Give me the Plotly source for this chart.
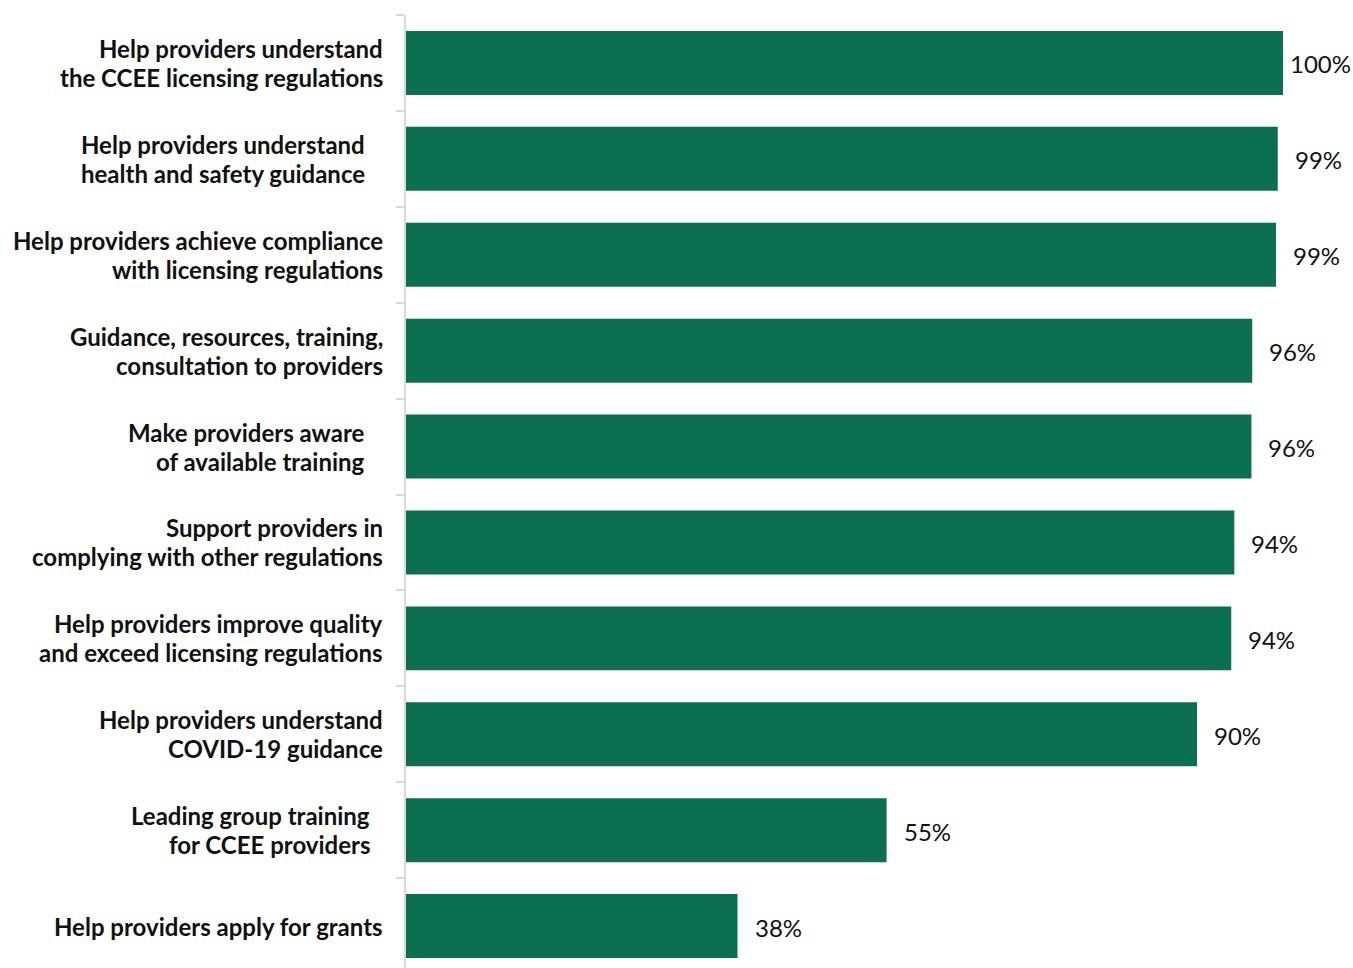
import plotly.graph_objects as go

# Survey items (top to bottom) and the share of respondents for each
categories = [
    "Help providers understand<br>the CCEE licensing regulations",
    "Help providers understand<br>health and safety guidance",
    "Help providers achieve compliance<br>with licensing regulations",
    "Guidance, resources, training,<br>consultation to providers",
    "Make providers aware<br>of available training",
    "Support providers in<br>complying with other regulations",
    "Help providers improve quality<br>and exceed licensing regulations",
    "Help providers understand<br>COVID-19 guidance",
    "Leading group training<br>for CCEE providers",
    "Help providers apply for grants",
]
values = [100, 99.4, 99.2, 96.49, 96.4, 94.45, 94.1, 90.2, 54.8, 37.8]

# Horizontal offset (px) of each category label from the axis line
label_gap = [21, 39, 21, 21, 39, 21, 21, 21, 34, 21]
# Gap (px) between the bar end and its value label
value_gap = [7, 17, 17, 17, 17, 17, 17, 17, 17, 17]

BAR = "#0B7050"
AXIS = "#D9D9D9"
FONT = "Lato, 'Open Sans', sans-serif"
LINE_STEP = 29  # px between the two lines of a wrapped label

idx = list(range(len(categories)))

fig = go.Figure(
    go.Bar(
        x=values,
        y=idx,
        orientation="h",
        width=0.667,
        marker=dict(color=BAR, line=dict(width=0)),
        hoverinfo="skip",
    )
)

annotations = []
for i, (cat, v) in enumerate(zip(categories, values)):
    lines = cat.split("<br>")
    n = len(lines)
    for k, line in enumerate(lines):
        offset = ((n - 1) / 2 - k) * LINE_STEP
        annotations.append(dict(
            x=0, xref="paper", y=i, yref="y",
            text=f"<b>{line}</b>", showarrow=False,
            xanchor="right", yanchor="middle", align="right",
            xshift=-label_gap[i], yshift=offset,
            font=dict(family=FONT, size=24, color="#111111"),
        ))
    annotations.append(dict(
        x=v, xref="x", y=i, yref="y",
        text=f"{v:.0f}%", showarrow=False,
        xanchor="left", yanchor="middle",
        xshift=value_gap[i] - 2, yshift=-1,
        font=dict(family=FONT, size=24, color="#111111"),
    ))

fig.update_layout(
    width=1353, height=968,
    margin=dict(l=406, r=70, t=15, b=0),
    paper_bgcolor="white", plot_bgcolor="white",
    showlegend=False,
    annotations=annotations,
    xaxis=dict(range=[0, 100], visible=False, fixedrange=True),
    yaxis=dict(
        range=[9.437, -0.5],
        tickmode="array", tickvals=[i - 0.5 for i in idx],
        showticklabels=False,
        ticks="outside", ticklen=8, tickcolor=AXIS, tickwidth=1.5,
        showline=True, linecolor=AXIS, linewidth=1.5,
        showgrid=False, zeroline=False, fixedrange=True,
    ),
)

fig.write_html("out.html")
